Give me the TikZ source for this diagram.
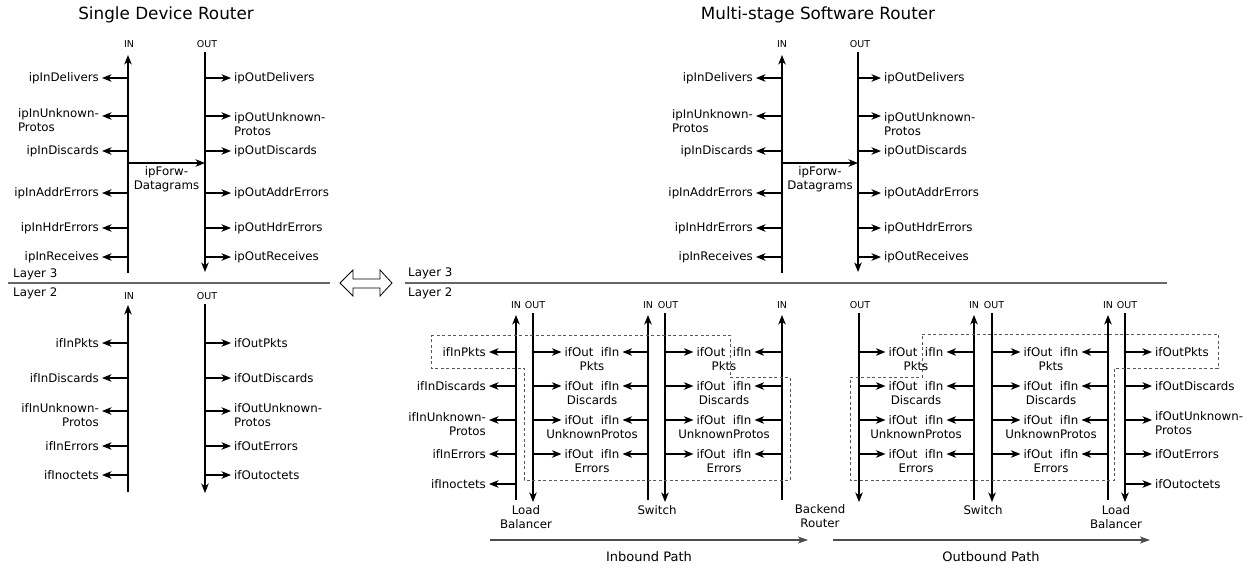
\documentclass[tikz,border=0pt]{standalone}
\usepackage{fontspec}
\setmainfont{DejaVu Sans}
\usetikzlibrary{arrows.meta}
% name, xline, xtip, yarrow, ycenter, align, text
\newcommand\mkL[7]{%
  \coordinate (#1s) at (#2,#4);
  \node[lbl,anchor=east,align=#6] (#1) at (#3,#5) {#7};
  \draw[arr] (#1s) -- (#1s -| #1.east);}
\newcommand\mkR[7]{%
  \coordinate (#1s) at (#2,#4);
  \node[lbl,anchor=west,align=#6] (#1) at (#3,#5) {#7};
  \draw[arr] (#1s) -- (#1s -| #1.west);}
% name, xout, xin, xcenter, yarrow, text
\newcommand\mkM[6]{%
  \coordinate (#1o) at (#2,#5);
  \coordinate (#1i) at (#3,#5);
  \node[lbl,align=center] (#1) at (#4,#5+7) {ifOut\ \ ifIn\\\makebox[0pt]{#6}};
  \draw[arr] (#1o) -- (#1o -| #1.west);
  \draw[arr] (#1i) -- (#1i -| #1.east);}
% name, x, ytop, ybottom, direction(up/down)
\newcommand\mkV[5]{%
  \coordinate (#1t) at (#2,#3);
  \coordinate (#1b) at (#2,#4);
  \ifx#5u\draw[arr] (#1b) -- (#1t);\else\draw[arr] (#1t) -- (#1b);\fi}
\begin{document}
\begin{tikzpicture}[x=1pt,y=-1pt,
  lbl/.style={font=\fontsize{11.8}{14}\selectfont,inner ysep=0pt,inner xsep=3pt},
  io/.style={font=\fontsize{9.5}{11}\selectfont,inner sep=0pt,anchor=base},
  ttl/.style={font=\fontsize{16.8}{20}\selectfont,inner sep=0pt,anchor=base},
  ptl/.style={font=\fontsize{13}{16}\selectfont,inner sep=0pt},
  arr/.style={line width=1.15pt,-{Stealth[length=9.5pt,width=7.5pt,inset=2.8pt]}},
  sep/.style={line width=1.2pt,draw=black!60},
  dbox/.style={dash pattern=on 3pt off 2.5pt,line width=0.9pt,draw=black!65},
  parr/.style={line width=1.1pt,draw=black!70,-{Stealth[length=10pt,width=7pt,inset=2.5pt]}}
]
\useasboundingbox (0,0) rectangle (1255,566);

% ---------------- titles
\node[ttl] (t1) at (166,19) {Single Device Router};
\node[ttl] (t2) at (818,19) {Multi-stage Software Router};

% ---------------- Single device, layer 3
\node[io] (s3in) at (129,47.5) {IN};
\node[io] (s3out) at (207,47.5) {OUT};
\mkV{s3i}{128}{55}{273}{u}
\mkV{s3o}{205}{52}{272}{d}
\mkL{a1}{128}{102}{78}{78}{left}{ipInDelivers}
\mkL{a2}{128}{102}{116}{120}{left}{ipInUnknown-\\Protos}
\mkL{a3}{128}{102}{151}{151}{left}{ipInDiscards}
\mkL{a4}{128}{102}{193}{193}{left}{ipInAddrErrors}
\mkL{a5}{128}{102}{228}{228}{left}{ipInHdrErrors}
\mkL{a6}{128}{102}{257}{257}{left}{ipInReceives}
\mkR{b1}{205}{231}{78}{78}{left}{ipOutDelivers}
\mkR{b2}{205}{231}{116}{124}{left}{ipOutUnknown-\\Protos}
\mkR{b3}{205}{231}{151}{151}{left}{ipOutDiscards}
\mkR{b4}{205}{231}{193}{193}{left}{ipOutAddrErrors}
\mkR{b5}{205}{231}{228}{228}{left}{ipOutHdrErrors}
\mkR{b6}{205}{231}{257}{257}{left}{ipOutReceives}
\coordinate (f1s) at (128,163); \coordinate (f1e) at (205,163);
\draw[arr] (f1s) -- (f1e);
\node[lbl,align=center] (f1) at (166.5,179) {ipForw-\\Datagrams};

% separator
\coordinate (sepa1) at (8,283); \coordinate (sepa2) at (330,283);
\draw[sep] (sepa1) -- (sepa2);
\node[lbl,anchor=west,inner xsep=0pt] (l3a) at (13,274) {Layer 3};
\node[lbl,anchor=west,inner xsep=0pt] (l2a) at (13,293.5) {Layer 2};

% ---------------- Single device, layer 2
\node[io] (s2in) at (129,299.5) {IN};
\node[io] (s2out) at (207,299.5) {OUT};
\mkV{s2i}{128}{305}{492}{u}
\mkV{s2o}{205}{304}{493}{d}
\mkL{c1}{128}{102}{343}{343}{right}{ifInPkts}
\mkL{c2}{128}{102}{378}{378}{right}{ifInDiscards}
\mkL{c3}{128}{102}{411}{415}{right}{ifInUnknown-\\Protos}
\mkL{c4}{128}{102}{446}{446}{right}{ifInErrors}
\mkL{c5}{128}{102}{475}{475}{right}{ifInoctets}
\mkR{d1}{205}{231}{343}{343}{left}{ifOutPkts}
\mkR{d2}{205}{231}{378}{378}{left}{ifOutDiscards}
\mkR{d3}{205}{231}{411}{415}{left}{ifOutUnknown-\\Protos}
\mkR{d4}{205}{231}{446}{446}{left}{ifOutErrors}
\mkR{d5}{205}{231}{475}{475}{left}{ifOutoctets}

% ---------------- double arrow
\coordinate (dA) at (340,283); \coordinate (dB) at (392,283);
\draw[line width=0.8pt] (dA) -- (353,270) -- (353,279) -- (380,279) -- (380,270)
  -- (dB) -- (380,296) -- (380,288) -- (353,288) -- (353,296) -- cycle;

% ---------------- Multi-stage, layer 3
\node[io] (m3in) at (782,47.5) {IN};
\node[io] (m3out) at (860,47.5) {OUT};
\mkV{m3i}{782}{55}{273}{u}
\mkV{m3o}{858}{52}{272}{d}
\mkL{e1}{782}{756}{78}{78}{left}{ipInDelivers}
\mkL{e2}{782}{756}{116}{121}{left}{ipInUnknown-\\Protos}
\mkL{e3}{782}{756}{151}{151}{left}{ipInDiscards}
\mkL{e4}{782}{756}{193}{193}{left}{ipInAddrErrors}
\mkL{e5}{782}{756}{228}{228}{left}{ipInHdrErrors}
\mkL{e6}{782}{756}{257}{257}{left}{ipInReceives}
\mkR{g1}{858}{881}{78}{78}{left}{ipOutDelivers}
\mkR{g2}{858}{881}{116}{124}{left}{ipOutUnknown-\\Protos}
\mkR{g3}{858}{881}{151}{151}{left}{ipOutDiscards}
\mkR{g4}{858}{881}{193}{193}{left}{ipOutAddrErrors}
\mkR{g5}{858}{881}{228}{228}{left}{ipOutHdrErrors}
\mkR{g6}{858}{881}{257}{257}{left}{ipOutReceives}
\coordinate (f2s) at (782,163); \coordinate (f2e) at (858,163);
\draw[arr] (f2s) -- (f2e);
\node[lbl,align=center] (f2) at (820,179) {ipForw-\\Datagrams};

\coordinate (sepb1) at (405,283); \coordinate (sepb2) at (1167,283);
\draw[sep] (sepb1) -- (sepb2);
\node[lbl,anchor=west,inner xsep=0pt] (l3b) at (408,273) {Layer 3};
\node[lbl,anchor=west,inner xsep=0pt] (l2b) at (408,293.5) {Layer 2};

% ---------------- Multi-stage, layer 2 : vertical lines
\node[io] (lb1in) at (516,308.5) {IN};
\node[io] (lb1out) at (535,308.5) {OUT};
\node[io] (sw1in) at (648,308.5) {IN};
\node[io] (sw1out) at (668,308.5) {OUT};
\node[io] (brin) at (782,308.5) {IN};
\node[io] (brout) at (860,308.5) {OUT};
\node[io] (sw2in) at (974,308.5) {IN};
\node[io] (sw2out) at (994,308.5) {OUT};
\node[io] (lb2in) at (1108,308.5) {IN};
\node[io] (lb2out) at (1127,308.5) {OUT};
\mkV{v1}{516}{315}{500}{u}
\mkV{v2}{533}{313}{502}{d}
\mkV{v3}{648}{315}{500}{u}
\mkV{v4}{665}{313}{502}{d}
\mkV{v5}{782}{315}{500}{u}
\mkV{v6}{859}{313}{502}{d}
\mkV{v7}{974}{315}{500}{u}
\mkV{v8}{992}{313}{502}{d}
\mkV{v9}{1108}{315}{500}{u}
\mkV{v10}{1125}{313}{502}{d}

% dashed groupings
\draw[dbox] (431,335) -- (730,335) -- (730,377) -- (790,377) -- (790,480)
  -- (524,480) -- (524,368) -- (431,368) -- cycle;
\draw[dbox] (922,334) -- (1218,334) -- (1218,368) -- (1114,368) -- (1114,480)
  -- (850,480) -- (850,377) -- (922,377) -- cycle;

% left labels (load balancer in)
\mkL{h1}{516}{489}{352}{352}{right}{ifInPkts}
\mkL{h2}{516}{489}{386}{386}{right}{ifInDiscards}
\mkL{h3}{516}{489}{420}{424}{right}{ifInUnknown-\\Protos}
\mkL{h4}{516}{489}{454}{454}{right}{ifInErrors}
\mkL{h5}{516}{489}{484}{484}{right}{ifInoctets}

% middle groups
\mkM{p1}{533}{648}{592}{352}{Pkts}
\mkM{p2}{533}{648}{592}{386}{Discards}
\mkM{p3}{533}{648}{592}{420}{UnknownProtos}
\mkM{p4}{533}{648}{592}{454}{Errors}
\mkM{q1}{665}{782}{724}{352}{Pkts}
\mkM{q2}{665}{782}{724}{386}{Discards}
\mkM{q3}{665}{782}{724}{420}{UnknownProtos}
\mkM{q4}{665}{782}{724}{454}{Errors}
\mkM{r1}{859}{974}{916}{352}{Pkts}
\mkM{r2}{859}{974}{916}{386}{Discards}
\mkM{r3}{859}{974}{916}{420}{UnknownProtos}
\mkM{r4}{859}{974}{916}{454}{Errors}
\mkM{u1}{992}{1108}{1051}{352}{Pkts}
\mkM{u2}{992}{1108}{1051}{386}{Discards}
\mkM{u3}{992}{1108}{1051}{420}{UnknownProtos}
\mkM{u4}{992}{1108}{1051}{454}{Errors}

% right labels (load balancer out)
\mkR{k1}{1125}{1152}{352}{352}{left}{ifOutPkts}
\mkR{k2}{1125}{1152}{386}{386}{left}{ifOutDiscards}
\mkR{k3}{1125}{1152}{420}{423}{left}{ifOutUnknown-\\Protos}
\mkR{k4}{1125}{1152}{454}{454}{left}{ifOutErrors}
\mkR{k5}{1125}{1152}{484}{484}{left}{ifOutoctets}

% device names
\node[lbl,align=center] (nlb1) at (526,517) {Load\\Balancer};
\node[lbl] (nsw1) at (657,510) {Switch};
\node[lbl,align=center] (nbr) at (820,516.5) {Backend\\Router};
\node[lbl] (nsw2) at (983,510) {Switch};
\node[lbl,align=center] (nlb2) at (1116,517) {Load\\Balancer};

% paths
\coordinate (ip1) at (490,540); \coordinate (ip2) at (808,540);
\coordinate (op1) at (833,540); \coordinate (op2) at (1150,540);
\draw[parr] (ip1) -- (ip2);
\draw[parr] (op1) -- (op2);
\node[ptl] (ipl) at (649,557) {Inbound Path};
\node[ptl] (opl) at (991,557) {Outbound Path};
\end{tikzpicture}
\end{document}
